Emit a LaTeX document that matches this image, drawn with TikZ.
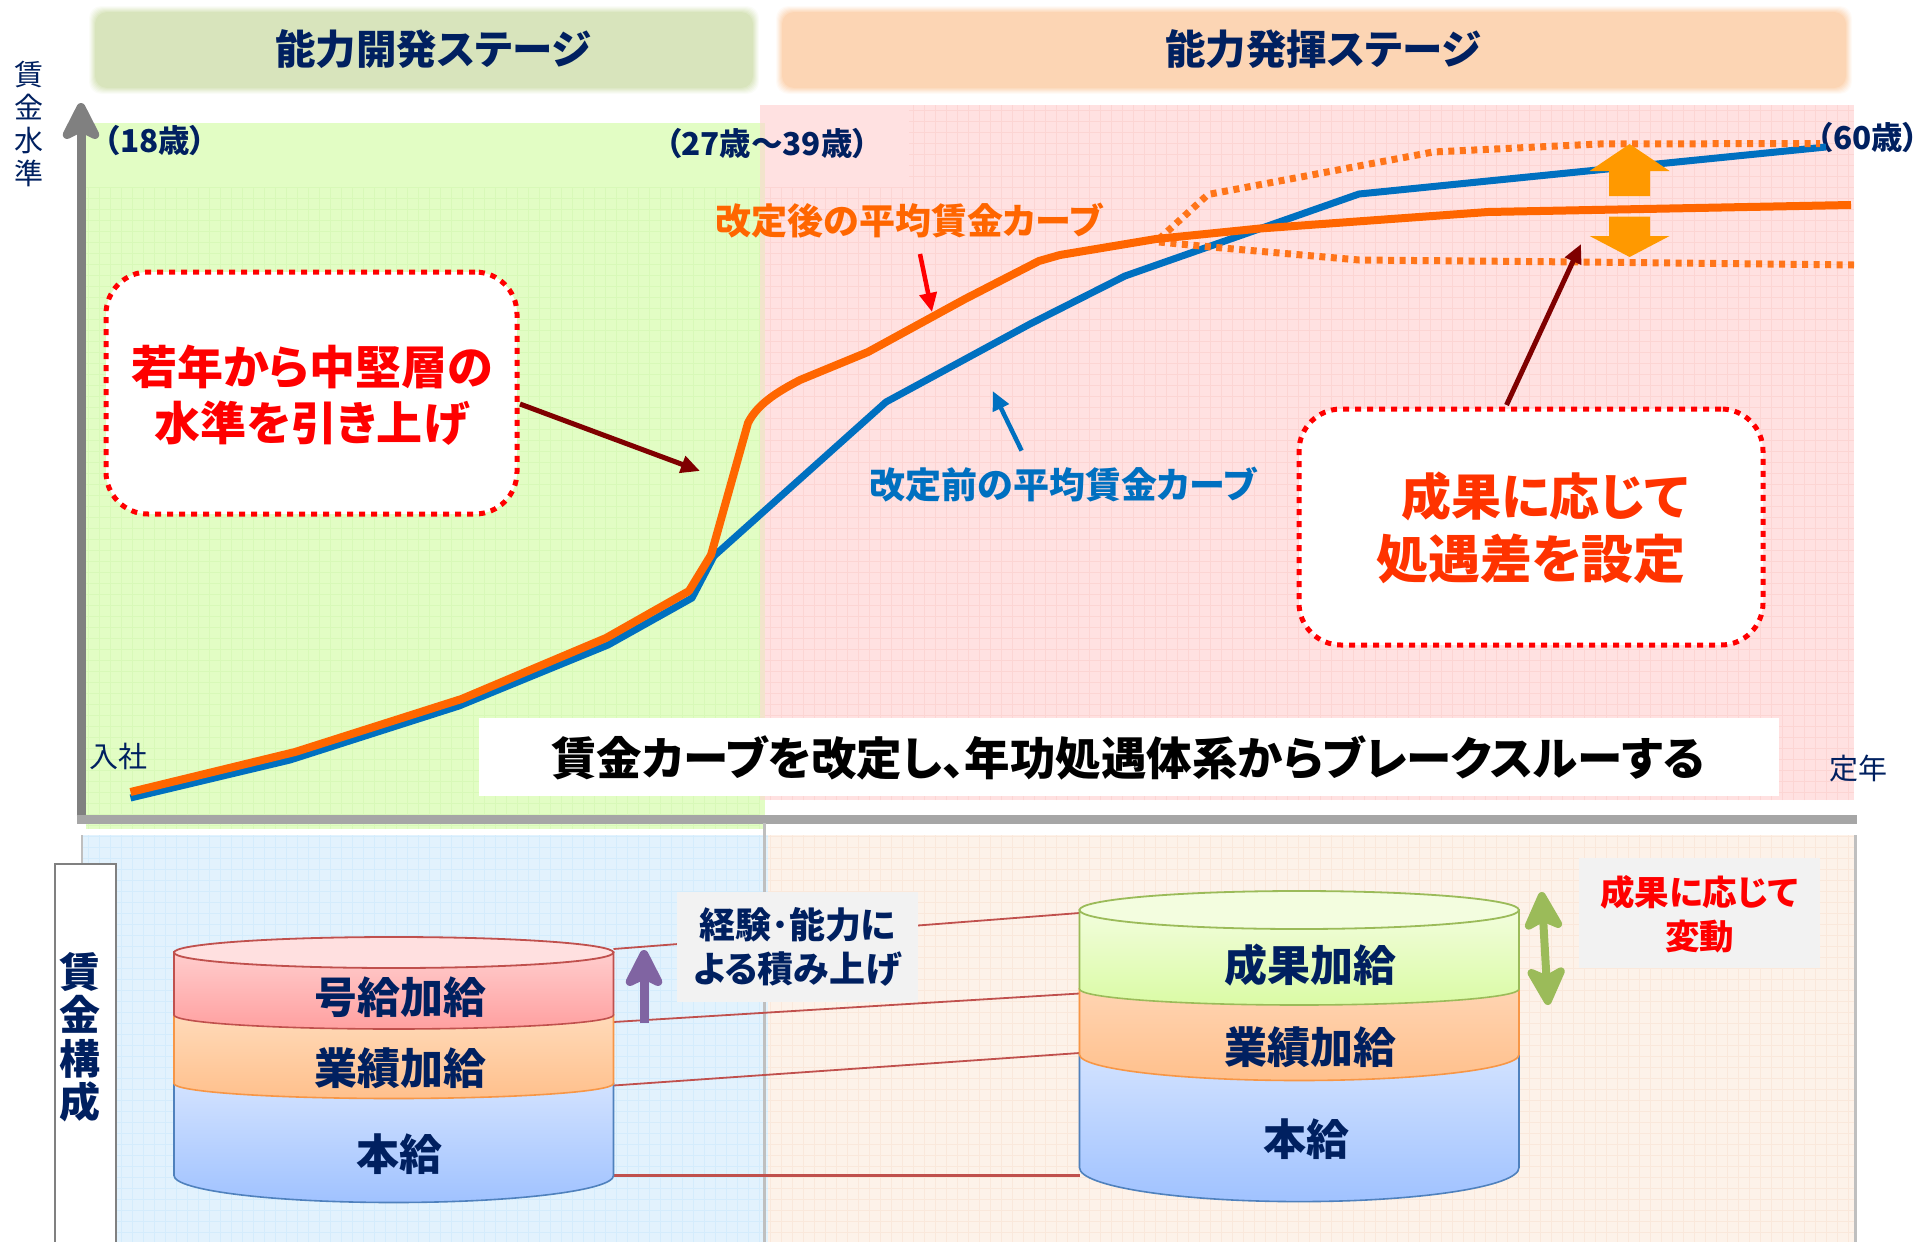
\documentclass[tikz,border=0pt]{standalone}
\usepackage{fontspec}
\usetikzlibrary{arrows.meta}
\newfontfamily\jp[RawFeature={+palt}]{Noto Sans CJK JP}
\definecolor{navy}{HTML}{002060}
\definecolor{axisv}{HTML}{808080}
\definecolor{axish}{HTML}{A6A6A6}
\definecolor{brd}{HTML}{BFBFBF}
\definecolor{panelG}{HTML}{E2FDC4}
\definecolor{gridG}{HTML}{D8F9B8}
\definecolor{panelR}{HTML}{FFE1E1}
\definecolor{gridR}{HTML}{FCD5D3}
\definecolor{panelB}{HTML}{E2F2FD}
\definecolor{gridB}{HTML}{D4ECFC}
\definecolor{panelO}{HTML}{FDF2E9}
\definecolor{gridO}{HTML}{FAE8DB}
\definecolor{band}{HTML}{F2E4CC}
\definecolor{hdrG}{HTML}{D8E4BC}
\definecolor{hdrO}{HTML}{FCD5B4}
\definecolor{curveB}{HTML}{0070C0}
\definecolor{curveO}{HTML}{FF6600}
\definecolor{darkr}{HTML}{7F0000}
\definecolor{conn}{HTML}{C0504D}
\definecolor{bigarr}{HTML}{FF9900}
\definecolor{pur}{HTML}{8064A2}
\definecolor{grn}{HTML}{9BBB59}
\definecolor{boxg}{HTML}{F2F2F2}
\newcommand{\cylbody}[8]{% xl xr ytop ybot border rybot colTop colBot
  \pgfmathsetmacro{\cxc}{(#1+#2)/2}%
  \pgfmathsetmacro{\crx}{(#2-#1)/2}%
  \pgfmathsetmacro{\ckx}{0.5523*\crx}%
  \pgfmathsetmacro{\cky}{0.5523*#6}%
  \shade[top color=#7,bottom color=#8,draw=#5,line width=1.6pt]
    (#1,#3) -- (#1,#4) .. controls (#1,#4+\cky) and (\cxc-\ckx,#4+#6) .. (\cxc,#4+#6)
    .. controls (\cxc+\ckx,#4+#6) and (#2,#4+\cky) .. (#2,#4) -- (#2,#3) -- cycle;
}
\newcommand{\softbox}[5]{% color x0 y0 x1 y1
  \foreach \d/\o in {6/.10,5/.14,4/.18,3/.24,2/.32,1/.45}{
    \fill[#1,opacity=\o,rounded corners=12pt] (#2-\d,#3-\d) rectangle (#4+\d,#5+\d);
  }
  \fill[#1,rounded corners=12pt] (#2,#3) rectangle (#4,#5);
}
\tikzset{
  txt/.style={inner sep=0pt,outer sep=0pt,align=center},
  hdrtxt/.style={txt,text=navy,font=\jp\bfseries\fontsize{40.5}{46}\selectfont},
  agetxt/.style={txt,text=navy,font=\jp\bfseries\fontsize{31.5}{36}\selectfont},
  axlabel/.style={txt,text=navy,font=\jp\fontsize{29}{34}\selectfont},
  cyltxt/.style={txt,text=navy,font=\jp\bfseries\fontsize{43}{48}\selectfont},
  sidetxt/.style={txt,text=navy,font=\jp\bfseries\fontsize{36}{44}\selectfont},
  curvelbl/.style={txt,font=\jp\bfseries\fontsize{36}{42}\selectfont},
  callout/.style={draw=red,fill=white,line width=5pt,dash pattern=on 6pt off 6pt,rounded corners=42pt},
  curve/.style={line width=8pt,line join=round},
  dotcurve/.style={curve,color=curveO!90!white,line width=7pt,dash pattern=on 6pt off 5.5pt},
  thinarrow/.style={line width=4.5pt,-{Triangle[length=19pt,width=17pt]}},
  bigtip/.style={-{Stealth[length=46pt,width=46pt,inset=11pt,round]}},
  bigdouble/.style={line width=8pt,{Stealth[length=46pt,width=46pt,inset=11pt,round]}-{Stealth[length=46pt,width=46pt,inset=11pt,round]}},
  gridline/.style={line width=.6pt},
}
\begin{document}
\begin{tikzpicture}[x=1pt,y=-1pt]
\useasboundingbox (0,0) rectangle (1930,1242);
% headers
\softbox{hdrG}{95}{12}{753}{88}
\softbox{hdrO}{782}{12}{1846}{88}
\node[hdrtxt] (h1) at (433,49) {能力開発ステージ};
\node[hdrtxt] (h2) at (1323,49) {能力発揮ステージ};
% panels
\fill[panelR] (760,105) rectangle (1854,800);
\draw[gridline,gridR,xstep=11pt,ystep=11pt] (760,187) grid (1854,800);
\draw[gridline,gridR,xstep=11pt,ystep=11pt] (909,105) grid (1854,187);
\fill[panelG] (86,123) rectangle (760,829);
\draw[gridline,gridG,xstep=11pt,ystep=11pt] (86,187) grid (760,829);
\fill[band] (760,123) rectangle (765,800);
\fill[panelG] (760,800) rectangle (765,829);
\fill[panelB] (82,835) rectangle (768,1242);
\draw[gridline,gridB,xstep=11pt,ystep=11pt] (82,835) grid (768,1242);
\fill[panelO] (768,835) rectangle (1854,1242);
\draw[gridline,gridO,xstep=11pt,ystep=11pt] (768,835) grid (1854,1242);
% axes
\coordinate (ax0) at (81,819);
\coordinate (axT) at (81,103);
\coordinate (axR) at (1857,819);
\draw[axisv,line width=9pt,bigtip] (ax0) -- (axT);
\draw[axish,line width=9pt] (76.5,819) -- (axR);
% separators
\draw[brd,line width=3pt] (764.5,823) -- (764.5,1242);
\draw[brd,line width=2.5pt] (1855.5,835) -- (1855.5,1242);
\draw[brd,line width=1.5pt] (82,835) -- (82,863);
% banner
\node[fill=white,minimum width=1300pt,minimum height=78pt,inner sep=0pt] (banner) at (1129,757) {};
\node[txt,font=\jp\bfseries\fontsize{45.5}{50}\selectfont,text=black] (bannert) at (1128,758) {賃金カーブを改定し、年功処遇体系からブレークスルーする};
% axis labels
\node[axlabel] (yl) at (29,124) {賃\\[-1pt]金\\[-1pt]水\\[-1pt]準};
\node[axlabel] (in) at (118,756) {入社};
\node[axlabel] (out) at (1858,768) {定年};
\node[agetxt] (a18) at (155,141) {（18歳）};
\node[agetxt] (a27) at (767,144) {（27歳～39歳）};
\node[agetxt] (a60) at (1868,138) {（60歳）};
% curves
\draw[curve,curveB,line width=7pt] (130.5,798) -- (290,760) -- (459,706) -- (608,645) -- (692,598) -- (714,556) -- (886,402) -- (1030,324) -- (1125,276) -- (1359,194) -- (1488,181) -- (1826,147);
\draw[dotcurve] (1159,239) -- (1208,194.5) -- (1433,152) -- (1599,144) -- (1820,143.5);
\draw[dotcurve] (1159,242) -- (1211,247) -- (1359,260) -- (1580,262) -- (1854,265);
\draw[curve,curveO] (130.5,792) -- (295,752) -- (461.5,699) -- (606,638) -- (689,591) -- (711,555) -- (748,423) .. controls (757,405) and (775,393) .. (800,380) -- (868,352) -- (965,299) -- (1039,261) -- (1060,255) -- (1156,239) -- (1260,228.5) -- (1488,212) -- (1851,205);
% big orange arrows
\fill[bigarr] (1629.6,144) -- (1669.6,171) -- (1650,171) -- (1650,196) -- (1609,196) -- (1609,171) -- (1589.6,171) -- cycle;
\fill[bigarr] (1629.6,257) -- (1669.6,236) -- (1650,236) -- (1650,216.6) -- (1609,216.6) -- (1609,236) -- (1589.6,236) -- cycle;
% curve labels
\node[curvelbl,text=curveO] (lblO) at (909,221) {改定後の平均賃金カーブ};
\node[curvelbl,text=curveB] (lblB) at (1063,485) {改定前の平均賃金カーブ};
\coordinate (p1) at (920,254); \coordinate (p1e) at (932,312);
\draw[thinarrow,red] (p1) -- (p1e);
\coordinate (p2) at (1021.6,450.6); \coordinate (p2e) at (992.7,391);
\draw[thinarrow,curveB] (p2) -- (p2e);
% callouts
\node[callout,minimum width=411pt,minimum height=242pt] (cL) at (311.5,393) {};
\node[txt,text=red,font=\jp\bfseries\fontsize{46}{56}\selectfont] (cLt) at (312,395) {若年から中堅層の\\水準を引き上げ};
\node[callout,minimum width=464pt,minimum height=236pt] (cR) at (1531,527) {};
\node[txt,text={rgb,255:red,255;green,51;blue,0},font=\jp\bfseries\fontsize{50}{63}\selectfont] (cRt) at (1531,528) {\hspace*{28pt}成果に応じて\\\fontsize{52}{63}\selectfont 処遇差を設定};
\coordinate (ca) at (520,404); \coordinate (cae) at (700,471);
\draw[thinarrow,darkr,line width=5pt] (ca) -- (cae);
\coordinate (cb) at (1506.5,405); \coordinate (cbe) at (1581,244);
\draw[thinarrow,darkr,line width=5pt] (cb) -- (cbe);
% cost box
\node[draw=axisv,fill=white,line width=1.5pt,minimum width=61pt,minimum height=390pt,anchor=north west,inner sep=0pt] (cost) at (54,863) {};
\node[txt,text=navy,font=\jp\bfseries\fontsize{41}{43.5}\selectfont] (costt) at (80,1037) {賃\\金\\構\\成};
% connectors behind boxes
\coordinate (l1) at (613.5,949); \coordinate (r1) at (1079.5,913);
\coordinate (l2) at (613.5,1022); \coordinate (r2) at (1079.5,993.5);
\coordinate (l3) at (613.5,1085.5); \coordinate (r3) at (1079.5,1053);
\coordinate (l4) at (613.5,1175.5); \coordinate (r4) at (1079.5,1175.5);
\draw[conn,line width=1.8pt] (l1) -- (r1);
\draw[conn,line width=1.8pt] (l2) -- (r2);
\draw[conn,line width=1.8pt] (l3) -- (r3);
\draw[conn,line width=3pt] (l4) -- (r4);
% left cylinder
\cylbody{174}{613.5}{1083.5}{1175.5}{{rgb,255:red,79;green,129;blue,189}}{27}{{rgb,255:red,210;green,226;blue,255}}{{rgb,255:red,160;green,194;blue,255}}
\cylbody{174}{613.5}{1015}{1083.5}{{rgb,255:red,247;green,150;blue,70}}{15}{{rgb,255:red,255;green,218;blue,185}}{{rgb,255:red,255;green,192;blue,140}}
\cylbody{174}{613.5}{952}{1015}{{rgb,255:red,192;green,80;blue,77}}{14}{{rgb,255:red,255;green,205;blue,205}}{{rgb,255:red,255;green,160;blue,160}}
\draw[conn,line width=1.8pt,fill={rgb,255:red,255;green,224;blue,224}] (393.7,952.5) ellipse [x radius=219.7,y radius=15.5];
% right cylinder
\cylbody{1079.5}{1519}{1054.5}{1167.6}{{rgb,255:red,79;green,129;blue,189}}{34}{{rgb,255:red,210;green,226;blue,255}}{{rgb,255:red,160;green,194;blue,255}}
\cylbody{1079.5}{1519}{989}{1054.5}{{rgb,255:red,247;green,150;blue,70}}{26}{{rgb,255:red,255;green,212;blue,178}}{{rgb,255:red,255;green,192;blue,140}}
\cylbody{1079.5}{1519}{910}{989}{{rgb,255:red,155;green,187;blue,89}}{16}{{rgb,255:red,242;green,253;blue,220}}{{rgb,255:red,218;green,251;blue,165}}
\draw[grn,line width=1.8pt,fill={rgb,255:red,243;green,253;blue,223}] (1299.2,910) ellipse [x radius=219.7,y radius=19];
% cylinder labels
\node[cyltxt] (c1) at (400,997) {号給加給};
\node[cyltxt] (c2) at (400,1068) {業績加給};
\node[cyltxt] (c3) at (399,1154) {本給};
\node[cyltxt] (d1) at (1310,965) {成果加給};
\node[cyltxt] (d2) at (1310,1047) {業績加給};
\node[cyltxt] (d3) at (1306.5,1139) {本給};
% side boxes
\node[fill=boxg,minimum width=241pt,minimum height=110pt,inner sep=0pt] (sb1) at (797.5,947) {};
\node[sidetxt] (sb1t) at (797.5,947) {経験･能力に\\よる積み上げ};
\node[fill=boxg,minimum width=241pt,minimum height=110pt,inner sep=0pt] (sb2) at (1699.5,913) {};
\node[sidetxt,text=red,font=\jp\bfseries\fontsize{34.5}{44}\selectfont] (sb2t) at (1699.5,914) {成果に応じて\\変動};
% purple and green arrows
\coordinate (pu0) at (644,1023); \coordinate (pu1) at (644,950);
\draw[pur,line width=9pt,bigtip] (pu0) -- (pu1);
\coordinate (gr0) at (1541.6,892); \coordinate (gr1) at (1548,1005);
\draw[grn,bigdouble] (gr0) -- (gr1);
\end{tikzpicture}
\end{document}
